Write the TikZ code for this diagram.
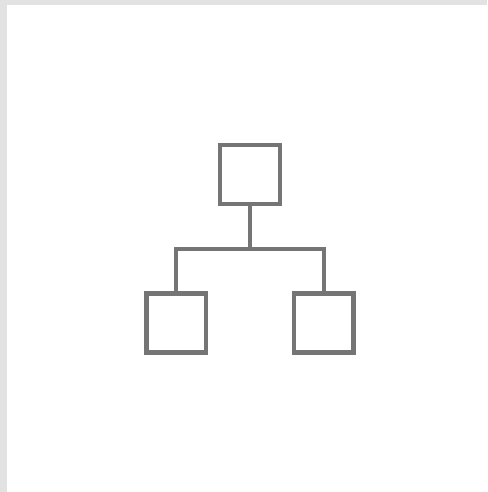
\documentclass[tikz,border=0pt]{standalone}
\usepackage{tikz}
\usetikzlibrary{positioning, calc}
\definecolor{FrameGray}{RGB}{226, 226, 226}
\definecolor{TreeGray}{RGB}{117, 117, 117}

\tikzset{
    treebox/.style={draw=TreeGray, line width=4.2pt, minimum width=59.5pt, minimum height=59pt, inner sep=0pt},
    treeline/.style={draw=TreeGray, line width=4.2pt}
}

\begin{document}
\begin{tikzpicture}[x=1pt, y=-1pt]
        % Page and frame
        \useasboundingbox (0,0) rectangle (487,492);
        \fill [white] (0,0) rectangle (487,492);
        \fill [FrameGray] (0,0) rectangle (487,5);
        \fill [FrameGray] (0,0) rectangle (7,492);

        % Boxes
        \node [treebox] (root) at (250,174.7) {};
        \node [treebox] (leftleaf) at (176.3,323) {};
        \node [treebox] (rightleaf) at (323.8,323) {};

        % Connectors
        \coordinate (fork) at (250,248.7);
        \draw [treeline] (root.south) -- (fork);
        \draw [treeline] (fork) -| (leftleaf.north);
        \draw [treeline] (fork) -| (rightleaf.north);
    \end{tikzpicture}
\end{document}
